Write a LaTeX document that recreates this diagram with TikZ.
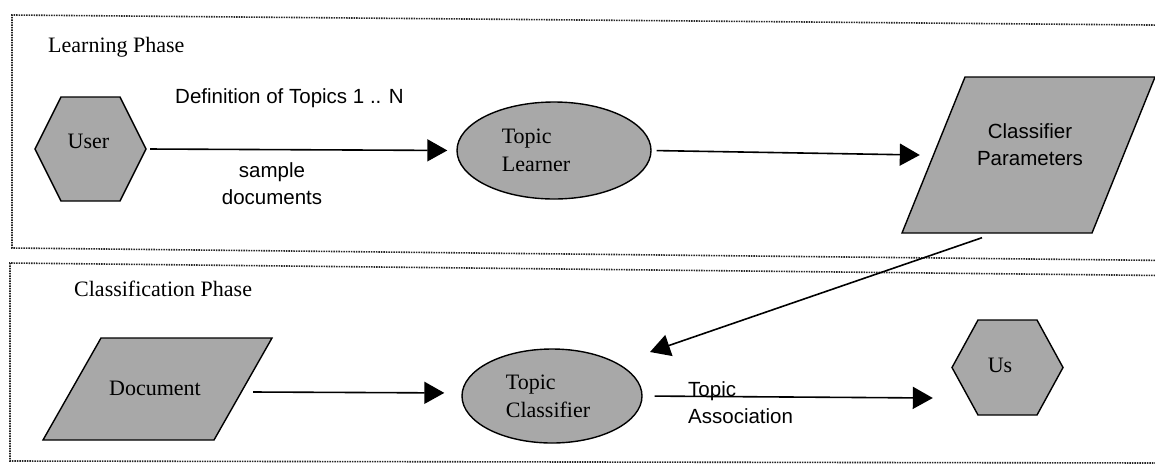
\documentclass[tikz,border=0pt]{standalone}
\usepackage{fontspec}
\setmainfont{Liberation Serif}
\newfontfamily\sansf{Liberation Sans}
\usetikzlibrary{shapes.geometric,arrows.meta}
\definecolor{shapegray}{RGB}{168,168,168}
\newcommand{\ntext}[3]{\raisebox{#2}[0pt][0pt]{\makebox[0pt][c]{\hspace*{#1}\hspace*{#1}#3}}}
\newcommand{\serifsz}{\fontsize{22}{27.5}\selectfont}
\newcommand{\sanssz}{\sansf\fontsize{20.5}{27}\selectfont}
\begin{document}
\begin{tikzpicture}[x=1pt,y=-1pt,
  shapestyle/.style={fill=shapegray, draw=black, line width=1.4pt},
  hexnode/.style={inner sep=0pt, font=\serifsz, path picture={
    \path[shapestyle]
      ([xshift=1.5pt]path picture bounding box.west) --
      ([shift={(27.5pt,-1.5pt)}]path picture bounding box.north west) --
      ([shift={(-27.5pt,-1.5pt)}]path picture bounding box.north east) --
      ([xshift=-1.5pt]path picture bounding box.east) --
      ([shift={(-27.5pt,1.5pt)}]path picture bounding box.south east) --
      ([shift={(27.5pt,1.5pt)}]path picture bounding box.south west) -- cycle;}},
  paranode/.style={inner sep=0pt, path picture={
    \path[shapestyle]
      ([shift={(1.5pt,1.5pt)}]path picture bounding box.south west) --
      ([shift={(#1,-1.5pt)}]path picture bounding box.north west) --
      ([shift={(-1.5pt,-1.5pt)}]path picture bounding box.north east) --
      ([shift={(-#1,1.5pt)}]path picture bounding box.south east) -- cycle;}},
  ellnode/.style={ellipse, shapestyle, inner sep=0pt, font=\serifsz},
  conn/.style={line width=1.6pt, -{Triangle[length=20pt,width=22pt]}},
  phasebox/.style={line width=1.6pt, black!85, dash pattern=on 1.4pt off 1.1pt},
  freetext/.style={inner sep=0pt},
]
\clip (0,0) rectangle (1155,464);

% phase frames
\draw[phasebox] (1160,25.1) -- (12,15) -- (12,248) -- (1160,260.4);
\draw[phasebox] (1160,275.5) -- (10,263) -- (10,461) -- (1160,463);

% phase titles
\node[freetext, font=\serifsz, anchor=base west] (lp) at (48,52) {Learning Phase};
\node[freetext, font=\serifsz, anchor=base west] (cph) at (74,296) {Classification Phase};

% shapes
\node[hexnode, minimum width=114pt, minimum height=107pt] (user) at (90.5,149) {\ntext{-2pt}{1pt}{User}};
\node[hexnode, minimum width=114pt, minimum height=98pt] (us) at (1007.5,367.5) {\ntext{-7.5pt}{-4.5pt}{Us}};
\node[ellnode, minimum width=194pt, minimum height=97pt] (tl) at (554,150.5)
  {\ntext{-18pt}{-20.5pt}{\begin{tabular}[b]{@{}l@{}}Topic\\Learner\end{tabular}}};
\node[ellnode, minimum width=180pt, minimum height=94pt] (tc) at (552,396)
  {\ntext{-4pt}{-21pt}{\begin{tabular}[b]{@{}l@{}}Topic\\Classifier\end{tabular}}};
\node[paranode=64.5pt, minimum width=256pt, minimum height=159pt, font=\sanssz] (cp) at (1028.5,155)
  {\ntext{1.5pt}{-10pt}{\begin{tabular}[b]{@{}c@{}}Classifier\\Parameters\end{tabular}}};
\node[paranode=59.5pt, minimum width=232pt, minimum height=105pt, font=\serifsz] (doc) at (157.5,389)
  {\ntext{-2.5pt}{-6pt}{Document}};

% connector labels
\node[freetext, font=\sanssz, anchor=base west] (def) at (175,103) {Definition of Topics 1 .. N};
\node[freetext, font=\sanssz, anchor=base] (sd) at (272,204)
  {\begin{tabular}[b]{@{}c@{}}sample\\documents\end{tabular}};
\node[freetext, font=\sanssz, anchor=base west] (ta) at (688,423)
  {\begin{tabular}[b]{@{}l@{}}Topic\\Association\end{tabular}};

% connectors
\draw[conn, shorten <=2.5pt, shorten >=9pt] (user.east) -- (tl.west);
\draw[conn, shorten <=5pt] (tl.east) -- ([xshift=19.5pt]cp.west);
\draw[conn, shorten >=17pt] ([shift={(-20.5pt,-3pt)}]doc.east) -- ([yshift=3pt]tc.west);
\draw[conn, shorten <=12pt] (tc.east) -- ([shift={(-17.5pt,-30.5pt)}]us.west);
\coordinate (tcin) at (650,352);
\draw[conn] ([shift={(-46.5pt,-3pt)}]cp.south) -- (tcin);
\end{tikzpicture}
\end{document}
